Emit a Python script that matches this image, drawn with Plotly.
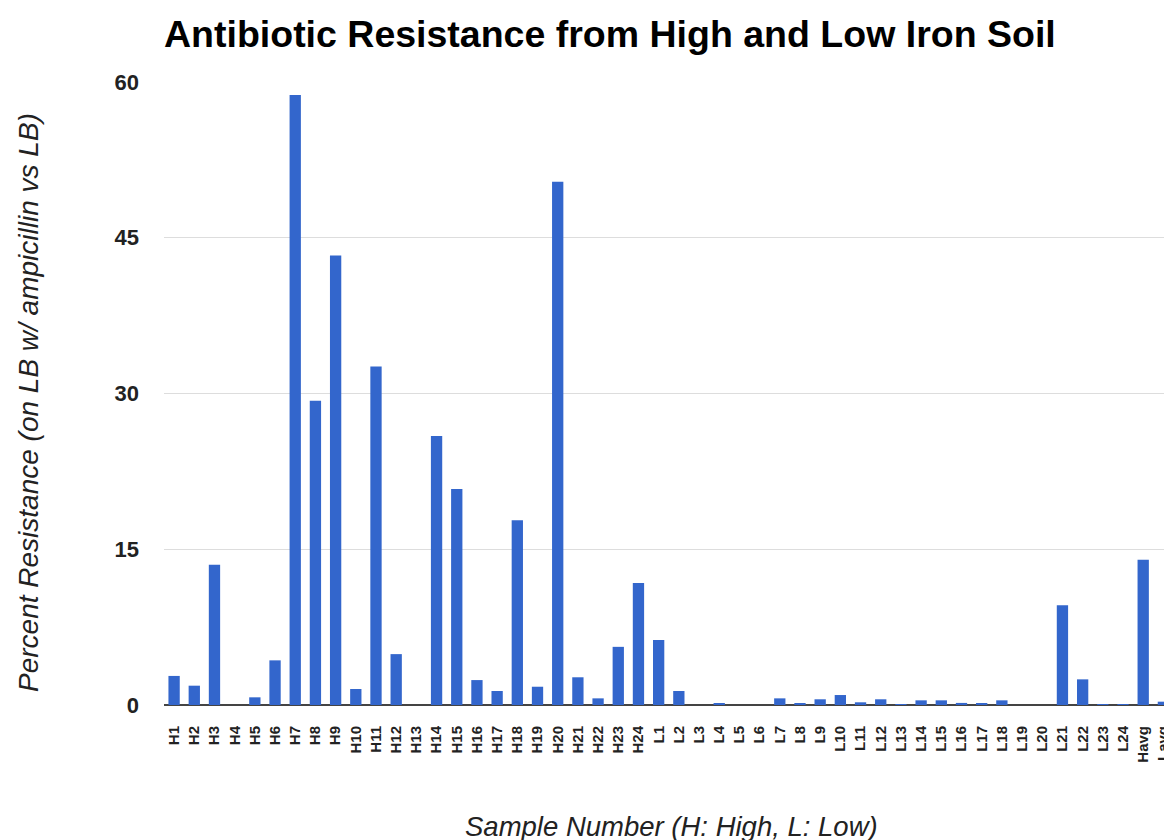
import plotly.graph_objects as go

samples = ["H%d" % i for i in range(1, 25)] + ["L%d" % i for i in range(1, 25)] + ["Havg", "Lavg"]

high_values = [2.8, 1.86, 13.5, 0.0, 0.74, 4.3, 58.75, 29.3, 43.3, 1.54, 32.6, 4.9,
               0.0, 25.9, 20.8, 2.4, 1.35, 17.8, 1.76, 50.4, 2.67, 0.64, 5.6, 11.75]
low_values = [6.26, 1.35, 0.0, 0.12, 0.0, 0.0, 0.64, 0.12, 0.55, 0.96, 0.26, 0.55,
              0.08, 0.45, 0.45, 0.2, 0.15, 0.45, 0.0, 0.0, 9.6, 2.47, 0.08, 0.05]
avg_values = [14.0, 0.32]

values = high_values + low_values + avg_values
y_ticks = [0, 15, 30, 45, 60]

# page body has an 8px margin on every side
OFF = 8
W, H = 1172 - 2 * OFF, 840 - OFF
base = 705 - OFF
L, R, T = 164 - OFF, 0, 82 - OFF
B = H - base
pw, ph = W - L - R, H - T - B

fig = go.Figure(go.Bar(
    x=samples, y=values,
    marker=dict(color="#3366CC", line=dict(width=0)),
))

font_family = "Liberation Sans, Arial, sans-serif"

fig.update_layout(
    width=W, height=H,
    margin=dict(l=L, r=R, t=T, b=B, autoexpand=False),
    paper_bgcolor="white", plot_bgcolor="white",
    bargap=0.44,
    showlegend=False,
    title=dict(
        text="<b>Antibiotic Resistance from High and Low Iron Soil</b>",
        font=dict(family=font_family, size=37.5, color="#000000"),
        x=0, xref="paper", xanchor="left",
        y=1 - (34 - OFF) / H, yref="container", yanchor="middle",
    ),
    xaxis=dict(
        type="category",
        range=[-0.5, 49.03],
        tickangle=-90,
        tickfont=dict(family=font_family, size=15, color="#222222", weight="bold"),
        showgrid=False,
        ticks="",
        showline=False,
        ticklabelstandoff=17,
        automargin=False,
    ),
    yaxis=dict(
        range=[0, 60],
        tickvals=y_ticks,
        ticktext=[str(v) for v in y_ticks],
        tickfont=dict(family=font_family, size=22, color="#222222", weight="bold"),
        gridcolor="#dddddd", gridwidth=1.2,
        zeroline=True, zerolinecolor="#444444", zerolinewidth=1.5,
        ticks="", ticklabelstandoff=24,
        automargin=False,
    ),
    annotations=[
        dict(text="<i>Percent Resistance (on LB w/ ampicillin vs LB)</i>",
             xref="paper", yref="paper",
             x=-(L - (28 - OFF)) / pw, y=(base - (403 - OFF)) / ph,
             xanchor="center", yanchor="middle", textangle=-90, showarrow=False,
             font=dict(family=font_family, size=28, color="#222222")),
        dict(text="<i>Sample Number (H: High, L: Low)</i>",
             xref="paper", yref="paper",
             x=((671 - OFF) - L) / pw, y=-((826 - OFF) - base) / ph,
             xanchor="center", yanchor="middle", showarrow=False,
             font=dict(family=font_family, size=27.5, color="#222222")),
    ],
)

fig.write_html("out.html")
